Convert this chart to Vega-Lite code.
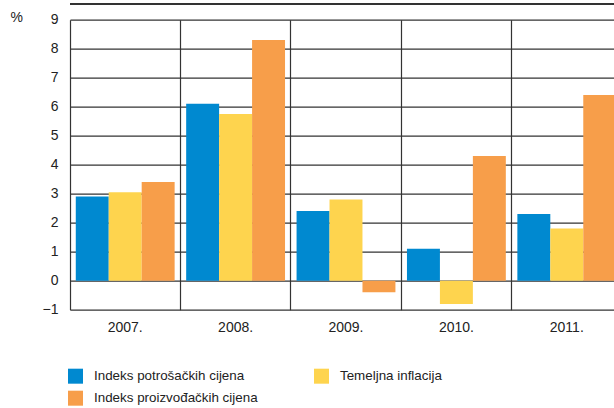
{
  "$schema": "https://vega.github.io/schema/vega-lite/v6.json",
  "autosize": "none",
  "width": 552,
  "height": 290,
  "padding": {"left": 70, "top": 19.7, "right": 0, "bottom": 98},
  "background": "white",
  "config": {
    "view": {"stroke": null},
    "font": "Liberation Sans, sans-serif",
    "axis": {"labelFont": "Liberation Sans, sans-serif", "labelColor": "#222", "labelFontSize": 14},
    "legend": {"labelFont": "Liberation Sans, sans-serif"}
  },
  "data": {
    "values": [
      {"year": "2007.", "series": "Indeks potrošačkih cijena", "value": 2.9},
      {"year": "2007.", "series": "Temeljna inflacija", "value": 3.05},
      {"year": "2007.", "series": "Indeks proizvođačkih cijena", "value": 3.4},
      {"year": "2008.", "series": "Indeks potrošačkih cijena", "value": 6.1},
      {"year": "2008.", "series": "Temeljna inflacija", "value": 5.75},
      {"year": "2008.", "series": "Indeks proizvođačkih cijena", "value": 8.3},
      {"year": "2009.", "series": "Indeks potrošačkih cijena", "value": 2.4},
      {"year": "2009.", "series": "Temeljna inflacija", "value": 2.8},
      {"year": "2009.", "series": "Indeks proizvođačkih cijena", "value": -0.4},
      {"year": "2010.", "series": "Indeks potrošačkih cijena", "value": 1.1},
      {"year": "2010.", "series": "Temeljna inflacija", "value": -0.8},
      {"year": "2010.", "series": "Indeks proizvođačkih cijena", "value": 4.3},
      {"year": "2011.", "series": "Indeks potrošačkih cijena", "value": 2.3},
      {"year": "2011.", "series": "Temeljna inflacija", "value": 1.8},
      {"year": "2011.", "series": "Indeks proizvođačkih cijena", "value": 6.4}
    ]
  },
  "encoding": {
    "y": {
      "type": "quantitative",
      "scale": {"domain": [-1, 9], "nice": false, "zero": false},
      "axis": {
        "values": [-1, 0, 1, 2, 3, 4, 5, 6, 7, 8, 9],
        "tickCount": 20, "labelOverlap": false, "format": "d",
        "title": "%", "titleAngle": 0, "titleAlign": "left", "titleBaseline": "middle",
        "titleX": -60, "titleY": -2, "titleFontSize": 14, "titleFontWeight": "normal", "titleColor": "#222",
        "titleFont": "Liberation Sans, sans-serif",
        "grid": true, "gridColor": "#333", "gridWidth": 1.2,
        "domain": false, "ticks": false, "labelPadding": 12
      }
    }
  },
  "layer": [
    {
      "mark": {"type": "bar", "clip": false},
      "encoding": {
        "x": {
          "field": "year", "type": "nominal",
          "scale": {"paddingInner": 0, "paddingOuter": 0},
          "axis": {
            "title": null, "labelAngle": 0, "grid": true, "bandPosition": 0,
            "gridColor": "#333", "gridWidth": 1.2, "domain": false, "ticks": false,
            "labelPadding": 11
          }
        },
        "xOffset": {
          "field": "series", "type": "nominal",
          "sort": ["Indeks potrošačkih cijena", "Temeljna inflacija", "Indeks proizvođačkih cijena"],
          "scale": {"paddingInner": 0, "paddingOuter": 0.175}
        },
        "y": {"field": "value", "type": "quantitative"},
        "color": {
          "field": "series", "type": "nominal",
          "scale": {
            "domain": ["Indeks potrošačkih cijena", "Temeljna inflacija", "Indeks proizvođačkih cijena"],
            "range": ["#0089d0", "#fed44e", "#f79e4a"]
          },
          "legend": {
            "title": null, "orient": "none", "legendX": -2, "legendY": 349,
            "direction": "horizontal", "columns": 2, "columnPadding": 56, "rowPadding": 7,
            "symbolType": "square", "symbolSize": 225, "symbolStrokeWidth": 0, "symbolOpacity": 1,
            "labelFontSize": 13.4, "labelColor": "#222", "labelOffset": 11, "labelLimit": 300
          }
        }
      }
    },
    {
      "mark": {"type": "rule", "color": "#333", "strokeWidth": 1.2},
      "encoding": {"y": {"datum": 9.53}}
    }
  ]
}
